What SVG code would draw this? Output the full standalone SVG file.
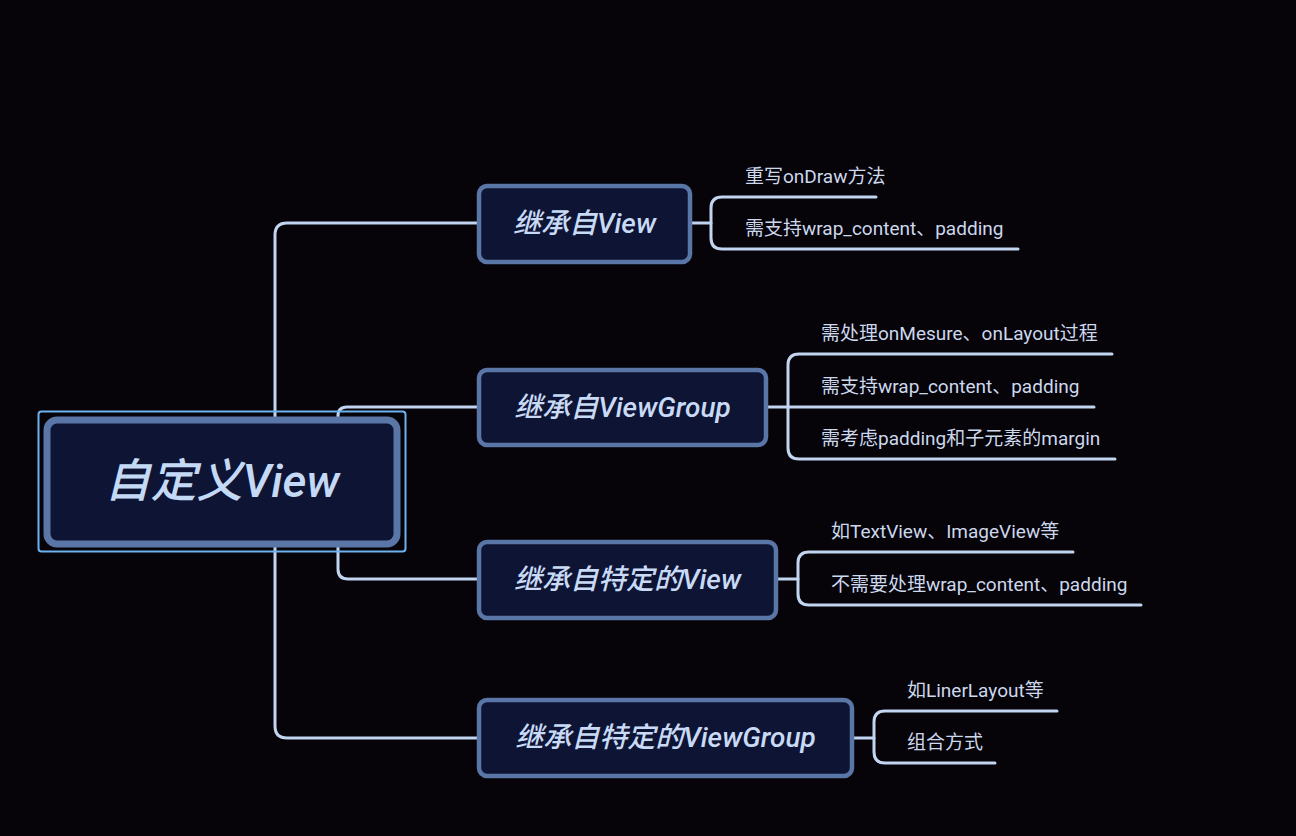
<svg xmlns="http://www.w3.org/2000/svg" width="1296" height="836" viewBox="0 0 1296 836">
<style>
.bg{fill:#060309}
.conn{fill:none;stroke:#c2d5f0;stroke-width:3;stroke-linecap:round}
.node{fill:#0e1433;stroke:#5a76a6;stroke-width:4.5}
.root{fill:#0e1433;stroke:#5a76a6;stroke-width:7}
.sel{fill:none;stroke:#6cb2ee;stroke-width:2}
.nt{font-family:Roboto,"Noto Sans CJK SC",sans-serif;font-style:italic;font-weight:500;font-size:28px;fill:#c8daf5;text-anchor:middle}
.rt{font-family:Roboto,"Noto Sans CJK SC",sans-serif;font-style:italic;font-weight:500;font-size:46px;fill:#c4d9f5;text-anchor:middle}
.lt{font-family:Roboto,"Noto Sans CJK SC",sans-serif;font-size:19px;fill:#ccd8ec}
</style>
<rect class="bg" x="0" y="0" width="1296" height="836"/>
<g id="connectors">
<path class="conn" d="M275 480 V235 Q275 223 287 223 H478"/>
<path class="conn" d="M275 480 V726 Q275 738 287 738 H478"/>
<path class="conn" d="M338 480 V416 Q338 407 347 407 H478"/>
<path class="conn" d="M338 480 V569 Q338 579 348 579 H478"/>
<path class="conn" d="M691 223 H711"/>
<path class="conn" d="M876 197 H722 Q711 197 711 208 V238 Q711 249 722 249 H1018"/>
<path class="conn" d="M767 407 H1094"/>
<path class="conn" d="M1112 354 H799 Q788 354 788 365 V448 Q788 459 799 459 H1115"/>
<path class="conn" d="M777 579 H798"/>
<path class="conn" d="M1073 552 H809 Q798 552 798 563 V594 Q798 605 809 605 H1141"/>
<path class="conn" d="M853 738 H874"/>
<path class="conn" d="M1057 711 H885 Q874 711 874 722 V752 Q874 763 885 763 H995"/>
</g>
<g id="root">
<rect class="sel" x="38.5" y="411.5" width="367" height="140" rx="3"/>
<rect class="root" x="47" y="420" width="350" height="124" rx="10"/>
<text class="rt" x="222" y="497">自定义View</text>
</g>
<g id="n1">
<rect class="node" x="479" y="186" width="211" height="76" rx="8"/>
<text class="nt" x="584.5" y="233">继承自View</text>
</g>
<g id="n2">
<rect class="node" x="479" y="370" width="287" height="75" rx="8"/>
<text class="nt" x="622.5" y="417">继承自ViewGroup</text>
</g>
<g id="n3">
<rect class="node" x="479" y="542" width="297" height="76" rx="8"/>
<text class="nt" x="627.5" y="589">继承自特定的View</text>
</g>
<g id="n4">
<rect class="node" x="479" y="700" width="373" height="76" rx="8"/>
<text class="nt" x="665.5" y="747">继承自特定的ViewGroup</text>
</g>
<g id="leaves">
<text class="lt" x="745" y="183">重写onDraw方法</text>
<text class="lt" x="745" y="235">需支持wrap_content、padding</text>
<text class="lt" x="821" y="340">需处理onMesure、onLayout过程</text>
<text class="lt" x="821" y="393">需支持wrap_content、padding</text>
<text class="lt" x="821" y="445">需考虑padding和子元素的margin</text>
<text class="lt" x="831" y="538">如TextView、ImageView等</text>
<text class="lt" x="831" y="591">不需要处理wrap_content、padding</text>
<text class="lt" x="907" y="697">如LinerLayout等</text>
<text class="lt" x="907" y="749">组合方式</text>
</g>
</svg>
